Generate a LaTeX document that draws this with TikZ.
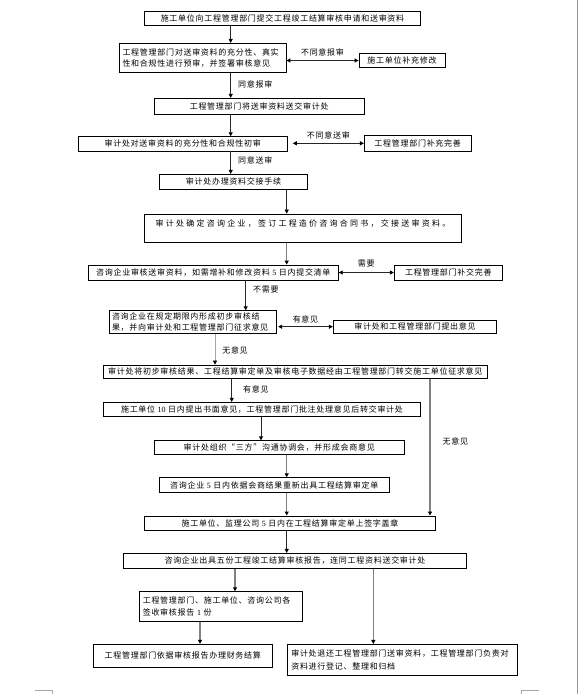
\documentclass[tikz,border=0pt]{standalone}
\usepackage{fontspec}
\setmainfont{Noto Sans CJK SC}[LetterSpace=9]
\newfontfamily\widecjk{Noto Sans CJK SC}[LetterSpace=28]
\newfontfamily\dig{Liberation Serif}
\usetikzlibrary{arrows.meta}
\tikzset{
  box/.style={draw=black, line width=0.8pt, inner sep=0pt, font=\fontsize{8pt}{11.7pt}\selectfont, align=center},
  lbl/.style={inner sep=0pt, text=black, font=\fontsize{8pt}{10pt}\selectfont},
  tip/.style={-{Triangle[length=4pt,width=4pt,color=black]}},
  dbl/.style={{Triangle[length=4pt,width=4pt,color=black]}-{Triangle[length=4pt,width=4pt,color=black]}, line width=0.9pt, black!85},
  darkline/.style={tip, line width=0.9pt, black!85},
  greyline/.style={tip, line width=1.3pt, black!50},
  lightline/.style={tip, line width=0.6pt, black!35}
}
\begin{document}
\begin{tikzpicture}[x=1pt,y=-1pt]
\useasboundingbox (0,0) rectangle (578,694);
\fill[white] (0,0) rectangle (578,694);
% page decorations
\draw[black!40, line width=0.8pt] (577.3,0) coordinate (pr1) -- (577.3,694) coordinate (pr2);
\draw[black!35, line width=0.6pt] (35,690.7) coordinate (cm1) -- (52.7,690.7) coordinate (cm2) -- (52.7,694) coordinate (cm3);
\draw[black!35, line width=0.6pt] (539,690.7) coordinate (cm4) -- (521,690.7) coordinate (cm5) -- (521,694) coordinate (cm6);

% column coordinates
\coordinate (c1) at (230.7,0);
\coordinate (c2) at (286.7,0);
\coordinate (c3) at (245.7,0);
\coordinate (c4) at (215,0);
\coordinate (c5) at (231.7,0);
\coordinate (c6) at (430,0);
\coordinate (c7) at (261,0);
\coordinate (c8) at (235,0);
\coordinate (c9) at (373.3,0);
\coordinate (c10) at (200,0);

% boxes
\node[box, minimum width=276.4pt, minimum height=14pt] (b1) at (282.5,18) {施工单位向工程管理部门提交工程竣工结算审核申请和送审资料};
\node[box, minimum width=167pt, minimum height=29.4pt, text width=160pt, align=left] (b2) at (202.5,58) {工程管理部门对送审资料的充分性、真实\\性和合规性进行预审，并签署审核意见};
\node[box, minimum width=86pt, minimum height=14.4pt] (b2b) at (402,60.5) {施工单位补充修改};
\node[box, minimum width=210.3pt, minimum height=16pt] (b3) at (259.2,106.3) {工程管理部门将送审资料送交审计处};
\node[box, minimum width=209.3pt, minimum height=14.3pt] (b4) at (182.7,143.8) {审计处对送审资料的充分性和合规性初审};
\node[box, minimum width=106.7pt, minimum height=15.3pt] (b4b) at (417.7,143.3) {工程管理部门补充完善};
\node[box, minimum width=148.4pt, minimum height=15pt] (b5) at (233.5,181.8) {审计处办理资料交接手续};
\node[box, minimum width=317.4pt, minimum height=28.3pt,
  label={[lbl, anchor=north, yshift=-5.5pt, font=\widecjk\fontsize{8pt}{10pt}\selectfont]north:{审计处确定咨询企业，签订工程造价咨询合同书，交接送审资料。}}] (b6) at (303,228.2) {};
\node[box, minimum width=250pt, minimum height=15pt] (b7) at (213.3,272.5) {咨询企业审核送审资料，如需增补和修改资料 {\dig 5} 日内提交清单};
\node[box, minimum width=108pt, minimum height=15pt] (b7b) at (448.3,272.5) {工程管理部门补交完善};
\node[box, minimum width=167.4pt, minimum height=22.6pt, text width=162pt, align=left] (b8) at (193,322) {咨询企业在规定期限内形成初步审核结\\果，并向审计处和工程管理部门征求意见};
\node[box, minimum width=163.4pt, minimum height=13.3pt] (b8b) at (415,326.7) {审计处和工程管理部门提出意见};
\node[box, minimum width=384pt, minimum height=13.3pt] (b9) at (295.3,371.7) {审计处将初步审核结果、工程结算审定单及审核电子数据经由工程管理部门转交施工单位征求意见};
\node[box, minimum width=317.4pt, minimum height=14.4pt] (b10) at (262,409.5) {施工单位 {\dig 10} 日内提出书面意见，工程管理部门批注处理意见后转交审计处};
\node[box, minimum width=250.3pt, minimum height=13.6pt] (b11) at (279.2,447.5) {审计处组织“三方”沟通协调会，并形成会商意见};
\node[box, minimum width=230pt, minimum height=14.6pt] (b12) at (274.3,485) {咨询企业 {\dig 5} 日内依据会商结果重新出具工程结算审定单};
\node[box, minimum width=291.4pt, minimum height=14.7pt] (b13) at (290,523.3) {施工单位、监理公司 {\dig 5} 日内在工程结算审定单上签字盖章};
\node[box, minimum width=343.4pt, minimum height=15pt] (b14) at (295,560.8) {咨询企业出具五份工程竣工结算审核报告，连同工程资料送交审计处};
\node[box, minimum width=163pt, minimum height=30pt, text width=156pt, align=left] (b15) at (220.8,606.7) {工程管理部门、施工单位、咨询公司各\\签收审核报告 {\dig 1} 份};
\node[box, minimum width=179pt, minimum height=23pt] (b16) at (182.8,655.8) {工程管理部门依据审核报告办理财务结算};
\node[box, minimum width=230pt, minimum height=30.7pt, text width=222pt, align=left, font=\fontsize{8pt}{12.7pt}\selectfont] (b17) at (402.3,659.7) {审计处退还工程管理部门送审资料，工程管理部门负责对\\资料进行登记、整理和归档};

% vertical connectors
\draw[darkline] (b1.south -| c1) -- (b2.north -| c1);
\draw[darkline] (b2.south -| c1) -- node[lbl, right=7pt, pos=0.45] (l1) {同意报审} (b3.north -| c1);
\draw[darkline] (b3.south -| c1) -- (b4.north -| c1);
\draw[darkline] (b4.south -| c1) -- node[lbl, right=7pt, pos=0.42] (l2) {同意送审} (b5.north -| c1);
\draw[darkline] (b5.south -| c2) -- (b6.north -| c2);
\draw[greyline] (b6.south -| c2) -- (b7.north -| c2);
\draw[darkline] (b7.south -| c3) -- node[lbl, right=7pt, pos=0.3] (l3) {不需要} (b8.north -| c3);
\draw[lightline] (b8.south -| c4) -- node[lbl, right=7pt, pos=0.55] (l4) {无意见} (b9.north -| c4);
\draw[darkline] (b9.south -| c5) -- node[lbl, right=11pt, pos=0.45] (l5) {有意见} (b10.north -| c5);
\draw[greyline] (b9.south -| c6) -- node[lbl, right=12pt, pos=0.46] (l6) {无意见} (b13.north -| c6);
\draw[darkline] (b10.south -| c7) -- (b11.north -| c7);
\draw[greyline] (b11.south -| c2) -- (b12.north -| c2);
\draw[greyline] (b12.south -| c2) -- (b13.north -| c2);
\draw[darkline] (b13.south -| c2) -- (b14.north -| c2);
\draw[greyline] (b14.south -| c8) -- (b15.north -| c8);
\draw[greyline] (b14.south -| c9) -- (b17.north -| c9);
\draw[greyline] (b15.south -| c10) -- (b16.north -| c10);

% horizontal double arrows
\draw[dbl] (b2b.west -| b2.east) -- node[lbl, above=4pt] (h1) {不同意报审} (b2b.west);
\draw[dbl] ([xshift=5pt]b4b.west -| b4.east) -- node[lbl, above=4pt] (h2) {不同意送审} (b4b.west);
\draw[dbl] (b7.east) -- node[lbl, above=5pt] (h3) {需要} (b7b.west);
\draw[dbl] ([xshift=1pt]b8b.west -| b8.east) -- node[lbl, above=3pt] (h4) {有意见} (b8b.west);
\end{tikzpicture}
\end{document}
